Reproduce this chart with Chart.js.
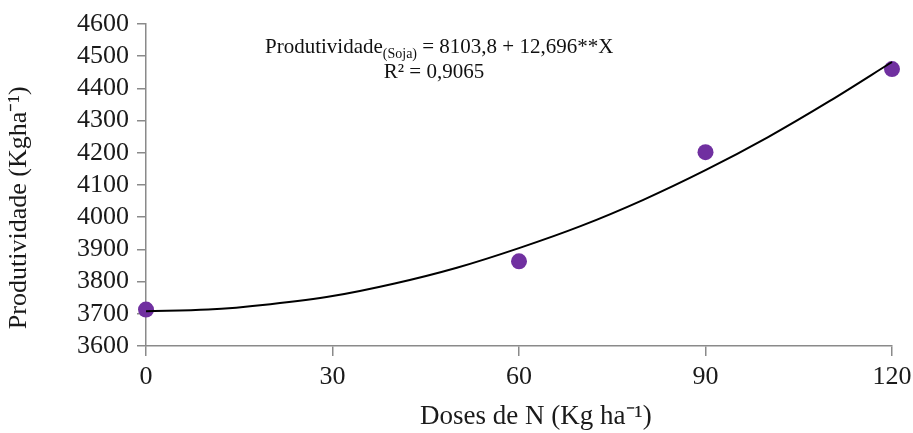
<!DOCTYPE html>
<html>
<head>
<meta charset="utf-8">
<script src="https://cdn.jsdelivr.net/npm/chart.js@4/dist/chart.umd.min.js"></script>
<style>
html,body{margin:0;padding:0;background:#fff;}
#wrap{width:913px;height:433px;position:relative;}
</style>
</head>
<body>
<div id="wrap"><canvas id="c" width="913" height="433"></canvas></div>
<script>
const doses = [0, 60, 90, 120];
const produtividade = [3713, 3863, 4202, 4460];
// Fitted trend curve
const curveDoses = [0, 10, 20, 30, 40, 50, 60, 70, 80, 90, 100, 110, 120];
const curveProd = [3708, 3713, 3730, 3755, 3794, 3843, 3904, 3973, 4054, 4146, 4248, 4361, 4482];
// Tick labels
const xTickValues = [0, 30, 60, 90, 120];
const yTickValues = [3600, 3700, 3800, 3900, 4000, 4100, 4200, 4300, 4400, 4500, 4600];
const xTitle = "Doses de N (Kg ha\u207B\u00B9)";
const yTitle = "Produtividade (Kgha\u207B\u00B9)";
const eqMain = "Produtividade";
const eqSub = "(Soja)";
const eqRest = " = 8103,8 + 12,696**X";
const eqR2 = "R\u00B2 = 0,9065";

const FONT = '"Liberation Serif", "Times New Roman", serif';
const AXIS = '#8a8a8a';

const annotation = {
  id: 'annotation',
  afterDraw(chart) {
    const ctx = chart.ctx;
    ctx.save();
    ctx.fillStyle = '#111';
    ctx.textBaseline = 'alphabetic';
    ctx.textAlign = 'left';
    let x = 265, y = 53;
    ctx.font = '21px ' + FONT;
    ctx.fillText(eqMain, x, y);
    x += ctx.measureText(eqMain).width;
    ctx.font = '14px ' + FONT;
    ctx.fillText(eqSub, x, y + 5);
    x += ctx.measureText(eqSub).width;
    ctx.font = '21px ' + FONT;
    ctx.fillText(eqRest, x, y);
    ctx.textAlign = 'center';
    ctx.fillText(eqR2, 434, 78);
    ctx.restore();
  }
};

new Chart(document.getElementById('c'), {
  type: 'scatter',
  data: {
    datasets: [
      {
        type: 'line',
        label: 'Ajuste',
        data: curveDoses.map((d, i) => ({x: d, y: curveProd[i]})),
        borderColor: '#000',
        borderWidth: 2,
        pointRadius: 0,
        cubicInterpolationMode: 'monotone',
        fill: false,
        clip: false,
        order: 0
      },
      {
        label: 'Produtividade',
        data: doses.map((d, i) => ({x: d, y: produtividade[i]})),
        backgroundColor: '#7030A0',
        borderWidth: 0,
        pointRadius: 8,
        pointHoverRadius: 8,
        clip: false,
        order: 1
      }
    ]
  },
  options: {
    responsive: false,
    animation: false,
    layout: {padding: {top: 24, right: 21, left: 0, bottom: 0}},
    plugins: {legend: {display: false}, tooltip: {enabled: false}},
    scales: {
      x: {
        type: 'linear',
        min: 0, max: 120,
        afterBuildTicks: s => { s.ticks = xTickValues.map(v => ({value: v})); },
        afterFit: s => { s.height = 87; s.paddingRight = 21; s.paddingLeft = 0; },
        ticks: {font: {family: FONT, size: 26}, color: '#1a1a1a', padding: 6, maxRotation: 0, autoSkip: false, callback: v => String(v)},
        grid: {drawOnChartArea: false, drawTicks: true, tickLength: 10, color: AXIS, lineWidth: 1.5},
        border: {color: AXIS, width: 1.5},
        title: {display: true, text: '\u00A0\u00A0\u00A0\u00A0\u00A0' + xTitle, font: {family: FONT, size: 27}, color: '#1a1a1a', padding: {top: 0, bottom: 0}}
      },
      y: {
        min: 3600, max: 4600,
        afterBuildTicks: s => { s.ticks = yTickValues.map(v => ({value: v})); },
        afterFit: s => { s.width = 146; s.paddingTop = 0; s.paddingBottom = 0; },
        ticks: {font: {family: FONT, size: 26}, color: '#1a1a1a', padding: 8, autoSkip: false, callback: v => String(v)},
        grid: {drawOnChartArea: false, drawTicks: true, tickLength: 9, color: AXIS, lineWidth: 1.5},
        border: {color: AXIS, width: 1.5},
        title: {display: true, text: yTitle + '\u00A0\u00A0\u00A0\u00A0\u00A0\u00A0\u00A0', font: {family: FONT, size: 26}, color: '#1a1a1a', padding: {top: 4, bottom: 0}}
      }
    }
  },
  plugins: [annotation]
});
</script>
</body>
</html>
